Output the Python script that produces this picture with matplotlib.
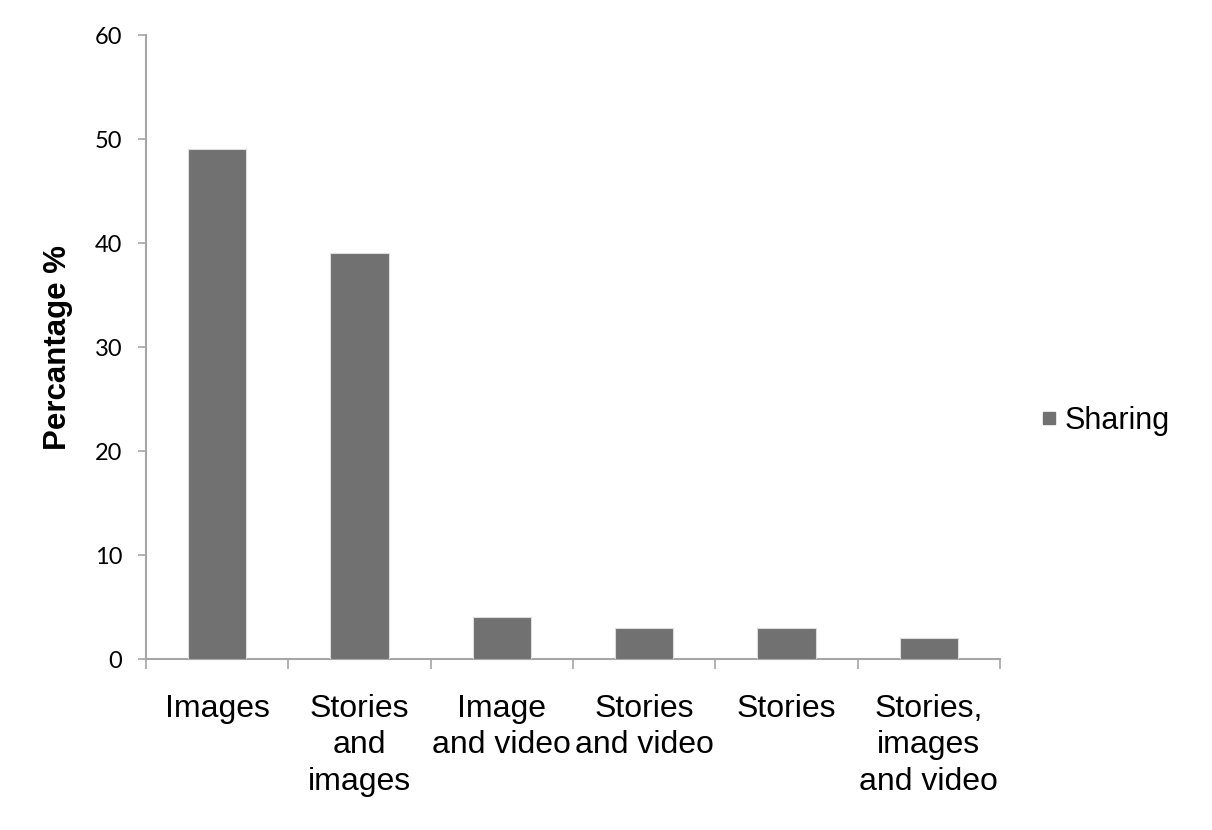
import numpy as np
import matplotlib
matplotlib.use("Agg")
import matplotlib.pyplot as plt
from matplotlib.lines import Line2D

# data
categories = ["Images", "Stories\nand\nimages", "Image\nand video",
              "Stories\nand video", "Stories", "Stories,\nimages\nand video"]
sharing = [49, 39, 4, 3, 3, 2]
y_ticks = [0, 10, 20, 30, 40, 50, 60]

BAR_COLOR = "#717171"
AXIS_COLOR = "#a6a6a6"

fig = plt.figure(figsize=(12.12, 8.30), dpi=100)
ax = fig.add_axes([146 / 1212, 171 / 830, 854 / 1212, 624 / 830])

x = np.arange(len(categories))
ax.bar(x, sharing, width=0.41, color=BAR_COLOR, edgecolor="#dcdcdc",
       linewidth=0.8, zorder=3)

ax.set_xlim(-0.5, len(categories) - 0.5)
ax.set_ylim(0, 60)

# y axis
ax.set_yticks(y_ticks)
ax.set_yticklabels([str(v) for v in y_ticks], family="Lato", fontsize=17)
ax.tick_params(axis="y", direction="out", length=6, width=1.2,
               color=AXIS_COLOR, pad=11)

# x axis: labels at centers, tick marks at category boundaries
ax.set_xticks(x)
ax.set_xticklabels(categories, family="Liberation Sans", fontsize=23,
                   linespacing=1.28, va="top", ha="center")
ax.tick_params(axis="x", which="major", length=0, pad=25)
ax.set_xticks(np.arange(-0.5, len(categories)), minor=True)
ax.tick_params(axis="x", which="minor", direction="out", length=7,
               width=1.2, color=AXIS_COLOR)

for side in ("top", "right"):
    ax.spines[side].set_visible(False)
for side in ("left", "bottom"):
    ax.spines[side].set_color(AXIS_COLOR)
    ax.spines[side].set_linewidth(1.5)

ax.set_ylabel("Percantage %", family="Liberation Sans", fontsize=22.5,
              fontweight="bold", va="center")
ax.yaxis.set_label_coords((58 - 146) / 854, (659 - 347) / 624)

handle = Line2D([], [], marker="s", linestyle="none", markersize=9,
                markerfacecolor=BAR_COLOR, markeredgecolor=BAR_COLOR)
fig.legend([handle], ["Sharing"], loc="center left",
           bbox_to_anchor=(1028 / 1212, 1 - 421 / 830), frameon=False,
           prop={"family": "Liberation Sans", "size": 22},
           handlelength=0.6, handletextpad=0.2, borderaxespad=0)

fig.savefig("out.png", dpi=100)
